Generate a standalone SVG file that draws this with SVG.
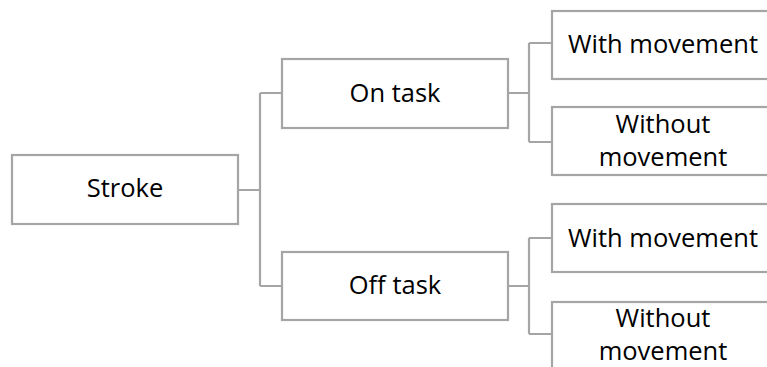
<svg xmlns="http://www.w3.org/2000/svg" width="767" height="367" viewBox="0 0 767 367">
<style>
.box{fill:#fff;stroke:#a5a5a5;stroke-width:2.2}
.ln{fill:none;stroke:#a5a5a5;stroke-width:2.2}
text{font-family:"Open Sans","Liberation Sans",sans-serif;font-size:25.5px;fill:#000;text-anchor:middle}
</style>
<rect width="767" height="367" fill="#fff"/>
<g id="connectors">
<path class="ln" d="M238 190H260M260 93V286M260 93H282M260 286H282"/>
<path class="ln" d="M508 93H529M529 43V142M529 43H552M529 142H552"/>
<path class="ln" d="M508 286H529M529 238V334M529 238H552M529 334H552"/>
</g>
<g id="stroke"><rect class="box" x="12" y="155" width="226" height="69"/><text x="125" y="197">Stroke</text></g>
<g id="on-task"><rect class="box" x="282" y="59" width="226" height="69"/><text x="395" y="102">On task</text></g>
<g id="off-task"><rect class="box" x="282" y="252" width="226" height="68"/><text x="395" y="294">Off task</text></g>
<g id="on-with"><rect class="box" x="552" y="11" width="222" height="68"/><text x="663" y="53">With movement</text></g>
<g id="on-without"><rect class="box" x="552" y="107" width="222" height="68"/><text x="663" y="133">Without</text><text x="663" y="166">movement</text></g>
<g id="off-with"><rect class="box" x="552" y="204" width="222" height="68"/><text x="663" y="247">With movement</text></g>
<g id="off-without"><rect class="box" x="552" y="302" width="222" height="80"/><text x="663" y="327">Without</text><text x="663" y="360">movement</text></g>
</svg>
